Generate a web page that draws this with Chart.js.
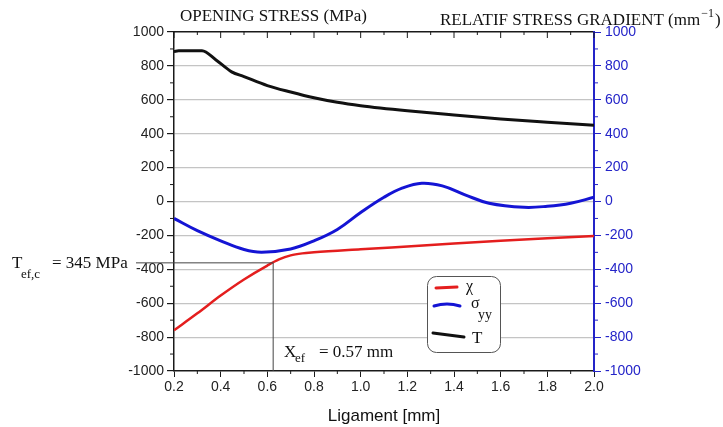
<!DOCTYPE html>
<html lang="en">
<head>
    <meta charset="UTF-8">
    <title>Opening stress vs ligament</title>
    <script src="https://cdn.jsdelivr.net/npm/chart.js"></script>
    <style>
        body {
            margin: 0;
            background-color: white;
        }
        #stressChart {
            display: block;
        }
    </style>
</head>
<body>
    <canvas id="stressChart" width="723" height="427"></canvas>
    <script>
        // values
        const tLigament = [0.2, 0.22, 0.32, 0.38, 0.447, 0.5, 0.6, 0.7, 0.8, 0.9, 1.0, 1.2, 1.4, 1.6, 1.8, 2.0];
        const tValues = [885, 889, 889, 835, 765, 737, 684, 646, 612, 585, 565, 535, 510, 487, 468, 450];

        const sigmaLigament = [0.2, 0.3, 0.4, 0.5, 0.576, 0.7, 0.8, 0.9, 1.0, 1.1, 1.18, 1.262, 1.35, 1.45, 1.55, 1.7, 1.8, 1.9, 2.0];
        const sigmaValues = [-100, -172, -232, -283, -299, -280, -232, -165, -65, 25, 80, 108, 92, 38, -10, -34, -28, -10, 25];

        const chiLigament = [0.2, 0.3, 0.4, 0.5, 0.6, 0.65, 0.7, 0.75, 0.8, 1.0, 1.2, 1.4, 1.6, 1.8, 2.0];
        const chiValues = [-760, -660, -555, -460, -378, -342, -318, -306, -300, -282, -265, -248, -232, -217, -203];

        const xTicks = [0.2, 0.4, 0.6, 0.8, 1.0, 1.2, 1.4, 1.6, 1.8, 2.0];
        const yTicks = [-1000, -800, -600, -400, -200, 0, 200, 400, 600, 800, 1000];

        // effective distance / stress markers
        const tefLevel = -362;
        const xefPosition = 0.625;

        const BLUE = '#2424c8';
        const AXIS = '#1a1a1a';
        const SERIF = '"Liberation Serif", "Times New Roman", serif';
        const SANS = '"Liberation Sans", Arial, sans-serif';

        function points(xs, ys) {
            return xs.map((x, i) => ({ x: x, y: ys[i] }));
        }

        function fixTicks(values) {
            return function (scale) {
                scale.ticks = values.map(v => ({ value: v }));
            };
        }

        // minor ticks, reference lines, titles and the boxed legend
        const decorations = {
            id: 'decorations',
            afterDraw(chart) {
                const ctx = chart.ctx;
                const x = chart.scales.x;
                const y = chart.scales.y;
                const area = chart.chartArea;
                ctx.save();

                // minor / inner ticks
                ctx.lineWidth = 1;
                ctx.strokeStyle = AXIS;
                for (let v = -900; v < 1000; v += 200) {
                    const py = y.getPixelForValue(v);
                    ctx.beginPath();
                    ctx.moveTo(area.left - 4, py);
                    ctx.lineTo(area.left, py);
                    ctx.stroke();
                }
                for (let i = 0; i < 9; i++) {
                    const v = 0.3 + i * 0.2;
                    const px = x.getPixelForValue(v);
                    ctx.beginPath();
                    ctx.moveTo(px, area.bottom);
                    ctx.lineTo(px, area.bottom + 3);
                    ctx.moveTo(px, area.top);
                    ctx.lineTo(px, area.top + 3);
                    ctx.stroke();
                }
                xTicks.forEach(v => {
                    const px = x.getPixelForValue(v);
                    ctx.beginPath();
                    ctx.moveTo(px, area.top);
                    ctx.lineTo(px, area.top + 6);
                    ctx.stroke();
                });
                ctx.strokeStyle = BLUE;
                for (let v = -900; v < 1000; v += 200) {
                    const py = y.getPixelForValue(v);
                    ctx.beginPath();
                    ctx.moveTo(area.right, py);
                    ctx.lineTo(area.right + 4, py);
                    ctx.stroke();
                }

                // T_ef,c and X_ef lines
                const ly = y.getPixelForValue(tefLevel);
                const lx = x.getPixelForValue(xefPosition);
                ctx.strokeStyle = '#444';
                ctx.lineWidth = 1;
                ctx.beginPath();
                ctx.moveTo(136, ly);
                ctx.lineTo(lx, ly);
                ctx.lineTo(lx, area.bottom);
                ctx.stroke();

                // titles
                ctx.fillStyle = '#111';
                ctx.textBaseline = 'alphabetic';
                ctx.textAlign = 'left';
                ctx.font = '17px ' + SERIF;
                ctx.fillText('OPENING STRESS (MPa)', 180, 21);
                const rt = 'RELATIF STRESS GRADIENT (mm';
                ctx.fillText(rt, 440, 25);
                let w = ctx.measureText(rt).width;
                ctx.font = '12px ' + SERIF;
                ctx.fillText('\u22121', 440 + w + 1, 17);
                const sw = ctx.measureText('\u22121').width;
                ctx.font = '17px ' + SERIF;
                ctx.fillText(')', 440 + w + sw + 2, 25);

                // axis title
                ctx.font = '17px ' + SANS;
                ctx.textAlign = 'center';
                ctx.fillText('Ligament [mm]', (area.left + area.right) / 2, 421);

                // annotations
                ctx.textAlign = 'left';
                ctx.font = '17px ' + SERIF;
                ctx.fillText('T', 12, 268);
                ctx.font = '13px ' + SERIF;
                ctx.fillText('ef,c', 21, 278);
                ctx.font = '17px ' + SERIF;
                ctx.fillText('= 345 MPa', 52, 268);

                ctx.fillText('X', 284, 357);
                ctx.font = '13px ' + SERIF;
                ctx.fillText('ef', 295, 362);
                ctx.font = '17px ' + SERIF;
                ctx.fillText('= 0.57 mm', 319, 357);

                // legend box
                ctx.beginPath();
                ctx.roundRect(427.5, 276.5, 73, 76, 9);
                ctx.fillStyle = 'white';
                ctx.fill();
                ctx.strokeStyle = '#555';
                ctx.lineWidth = 1;
                ctx.stroke();

                ctx.lineCap = 'round';
                ctx.lineWidth = 3;
                ctx.strokeStyle = chart.data.datasets[0].borderColor;
                ctx.beginPath();
                ctx.moveTo(436, 288);
                ctx.lineTo(457, 287);
                ctx.stroke();
                ctx.strokeStyle = chart.data.datasets[1].borderColor;
                ctx.beginPath();
                ctx.moveTo(434, 306);
                ctx.quadraticCurveTo(447, 302, 460, 306);
                ctx.stroke();
                ctx.strokeStyle = chart.data.datasets[2].borderColor;
                ctx.beginPath();
                ctx.moveTo(433, 333);
                ctx.lineTo(464, 337);
                ctx.stroke();

                ctx.fillStyle = '#111';
                ctx.font = '16px ' + SERIF;
                ctx.fillText('\u03c7', 466, 291);
                ctx.fillText('\u03c3', 471, 308);
                ctx.font = '14px ' + SERIF;
                ctx.fillText('yy', 478, 319);
                ctx.font = '17px ' + SERIF;
                ctx.fillText('T', 472, 343);

                ctx.restore();
            }
        };

        const ctx = document.getElementById('stressChart').getContext('2d');
        new Chart(ctx, {
            type: 'line',
            data: {
                datasets: [{
                    label: '\u03c7',
                    data: points(chiLigament, chiValues),
                    borderColor: '#e41e1e',
                    borderWidth: 2.5,
                    pointRadius: 0,
                    cubicInterpolationMode: 'monotone'
                }, {
                    label: '\u03c3yy',
                    data: points(sigmaLigament, sigmaValues),
                    borderColor: '#1414d4',
                    borderWidth: 3,
                    pointRadius: 0,
                    tension: 0.4
                }, {
                    label: 'T',
                    data: points(tLigament, tValues),
                    borderColor: '#111111',
                    borderWidth: 3,
                    pointRadius: 0,
                    cubicInterpolationMode: 'monotone'
                }]
            },
            options: {
                responsive: false,
                animation: false,
                layout: { padding: 0 },
                plugins: {
                    legend: { display: false },
                    tooltip: { enabled: false }
                },
                scales: {
                    x: {
                        type: 'linear',
                        position: 'bottom',
                        min: 0.2,
                        max: 2.0,
                        afterBuildTicks: fixTicks(xTicks),
                        afterFit: s => { s.height = 56; },
                        ticks: {
                            color: '#222',
                            font: { family: SANS, size: 14 },
                            padding: 2,
                            maxRotation: 0,
                            autoSkip: false,
                            callback: v => v.toFixed(1)
                        },
                        grid: { drawOnChartArea: false, tickLength: 6, tickColor: AXIS },
                        border: { color: AXIS, width: 1.5 }
                    },
                    xTop: {
                        type: 'linear',
                        position: 'top',
                        min: 0.2,
                        max: 2.0,
                        afterFit: s => { s.height = 32; },
                        ticks: { display: false },
                        grid: { display: false },
                        border: { color: AXIS, width: 1.5 }
                    },
                    y: {
                        position: 'left',
                        min: -1000,
                        max: 1000,
                        afterBuildTicks: fixTicks(yTicks),
                        afterFit: s => { s.width = 174; },
                        ticks: {
                            color: '#222',
                            font: { family: SANS, size: 14 },
                            padding: 3,
                            callback: v => String(v)
                        },
                        grid: {
                            color: c => (c.tick && Math.abs(c.tick.value) < 1000) ? '#c4c4c4' : 'rgba(0,0,0,0)',
                            tickColor: AXIS,
                            tickLength: 7,
                            lineWidth: 1.2
                        },
                        border: { color: AXIS, width: 1.5 }
                    },
                    y2: {
                        position: 'right',
                        min: -1000,
                        max: 1000,
                        afterBuildTicks: fixTicks(yTicks),
                        afterFit: s => { s.width = 129; },
                        ticks: {
                            color: BLUE,
                            font: { family: SANS, size: 14 },
                            padding: 4,
                            callback: v => String(v)
                        },
                        grid: { drawOnChartArea: false, tickColor: BLUE, tickLength: 7 },
                        border: { color: BLUE, width: 2 }
                    }
                }
            },
            plugins: [decorations]
        });
    </script>
</body>
</html>
